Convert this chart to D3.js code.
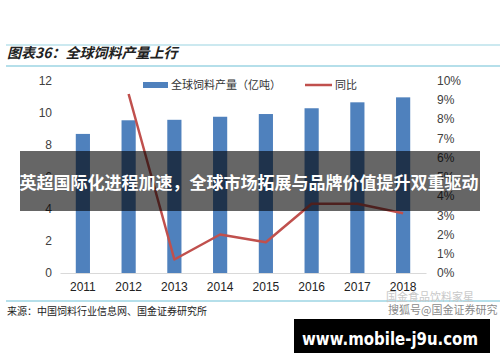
<!DOCTYPE html>
<html lang="zh">
<head>
<meta charset="utf-8">
<title>全球饲料产量上行</title>
<script src="https://cdn.jsdelivr.net/npm/d3@7"></script>
<style>
  body { margin: 0; background: #fff; }
  svg { display: block; }
</style>
</head>
<body>
<script>
// chart data
const years = ["2011", "2012", "2013", "2014", "2015", "2016", "2017", "2018"];
const output = [8.67, 9.52, 9.55, 9.74, 9.91, 10.27, 10.64, 10.95];   // 亿吨
const yoy = [null, 9.3, 0.7, 2.0, 1.6, 3.6, 3.6, 3.1];               // %
const leftTicks = [0, 2, 4, 6, 8, 10, 12];
const rightTicks = [0, 1, 2, 3, 4, 5, 6, 7, 8, 9, 10];

const width = 500, height = 362;
const cjk = "'Noto Sans CJK SC', sans-serif";
const num = "'Liberation Sans', Arial, sans-serif";

const svg = d3.select("body").append("svg")
    .attr("width", width)
    .attr("height", height);

svg.append("rect").attr("width", width).attr("height", height).attr("fill", "#fff");

// header and footer rules
svg.append("line").attr("x1", 6).attr("x2", 500).attr("y1", 45).attr("y2", 45)
    .attr("stroke", "#9ad3e2").attr("stroke-width", 1.2);
svg.append("line").attr("x1", 6).attr("x2", 500).attr("y1", 66).attr("y2", 66)
    .attr("stroke", "#6cc0d6").attr("stroke-width", 1.2);
svg.append("line").attr("x1", 6).attr("x2", 500).attr("y1", 301).attr("y2", 301)
    .attr("stroke", "#6cc0d6").attr("stroke-width", 1.2);

svg.append("text")
    .attr("x", 7).attr("y", 58)
    .attr("font-family", cjk).attr("font-size", 14).attr("font-weight", "bold")
    .attr("font-style", "italic").attr("fill", "#222")
    .text("图表36：全球饲料产量上行");

svg.append("text")
    .attr("x", 7).attr("y", 315)
    .attr("font-family", cjk).attr("font-size", 10).attr("fill", "#222")
    .text("来源：中国饲料行业信息网、国金证券研究所");

// scales
var x = d3.scaleBand()
    .domain(years)
    .range([60, 426])
    .paddingInner(0.69)
    .paddingOuter(0.345);

var yLeft = d3.scaleLinear().domain([0, 12]).range([273, 80.5]);
var yRight = d3.scaleLinear().domain([0, 10]).range([273, 80.5]);

// left axis
var gl = svg.append("g")
    .attr("transform", "translate(52,0)")
    .call(d3.axisLeft(yLeft).tickValues(leftTicks).tickSize(0).tickPadding(0));
gl.select(".domain").remove();
gl.selectAll("text").attr("font-family", num).attr("font-size", 12).attr("fill", "#404040");

// right axis
var gr = svg.append("g")
    .attr("transform", "translate(437,0)")
    .call(d3.axisRight(yRight).tickValues(rightTicks).tickSize(0).tickPadding(0)
        .tickFormat(d => d + "%"));
gr.select(".domain").remove();
gr.selectAll("text").attr("font-family", num).attr("font-size", 12).attr("fill", "#404040");

// bottom axis
var gb = svg.append("g")
    .attr("transform", "translate(0,273)")
    .call(d3.axisBottom(x).tickSize(0).tickPadding(9));
gb.select(".domain").attr("stroke", "#d9d9d9");
gb.selectAll("text").attr("font-family", num).attr("font-size", 12).attr("fill", "#222");

// bars
svg.selectAll("rect.bar")
    .data(output)
    .enter()
    .append("rect")
    .attr("class", "bar")
    .attr("x", (d, i) => x(years[i]))
    .attr("width", x.bandwidth())
    .attr("y", d => yLeft(d))
    .attr("height", d => yLeft(0) - yLeft(d))
    .attr("fill", "#4f81bd");

// yoy line
var line = d3.line()
    .defined(d => d != null)
    .x((d, i) => x(years[i]) + x.bandwidth() / 2)
    .y(d => yRight(d));

svg.append("path")
    .attr("d", line(yoy))
    .attr("fill", "none")
    .attr("stroke", "#c0504d")
    .attr("stroke-width", 2.5)
    .attr("stroke-linejoin", "round");

// legend
var legend = svg.append("g").attr("font-family", cjk).attr("font-size", 11).attr("fill", "#333");
legend.append("rect").attr("x", 143).attr("y", 82).attr("width", 25).attr("height", 6).attr("fill", "#4f81bd");
legend.append("text").attr("x", 171).attr("y", 89).text("全球饲料产量（亿吨）");
legend.append("line").attr("x1", 305).attr("x2", 332).attr("y1", 85).attr("y2", 85)
    .attr("stroke", "#c0504d").attr("stroke-width", 2.5);
legend.append("text").attr("x", 335).attr("y", 89).text("同比");

// watermark
svg.append("text")
    .attr("x", 386).attr("y", 301)
    .attr("font-family", cjk).attr("font-size", 11).attr("fill", "#c8c8c8")
    .text("国金食品饮料家星");
svg.append("text")
    .attr("x", 388).attr("y", 314)
    .attr("font-family", cjk).attr("font-size", 11).attr("fill", "#8a8a8a")
    .text("搜狐号@国金证券研究");

// overlay banner
svg.append("rect")
    .attr("x", 20).attr("y", 151).attr("width", 460).attr("height", 60)
    .attr("fill", "rgba(0,0,0,0.6)");
svg.append("text")
    .attr("x", 249).attr("y", 189)
    .attr("text-anchor", "middle")
    .attr("font-family", cjk).attr("font-size", 17).attr("font-weight", "bold")
    .attr("fill", "#fff")
    .text("英超国际化进程加速，全球市场拓展与品牌价值提升双重驱动");

// bottom link box
svg.append("rect")
    .attr("x", 294).attr("y", 319).attr("width", 196).attr("height", 34)
    .attr("fill", "#000");
svg.append("text")
    .attr("x", 302).attr("y", 345)
    .attr("textLength", 176).attr("lengthAdjust", "spacingAndGlyphs")
    .attr("font-family", "'DejaVu Sans', sans-serif").attr("font-size", 18).attr("font-weight", "bold")
    .attr("fill", "#fff")
    .text("www.mobile-j9u.com");
</script>
</body>
</html>
